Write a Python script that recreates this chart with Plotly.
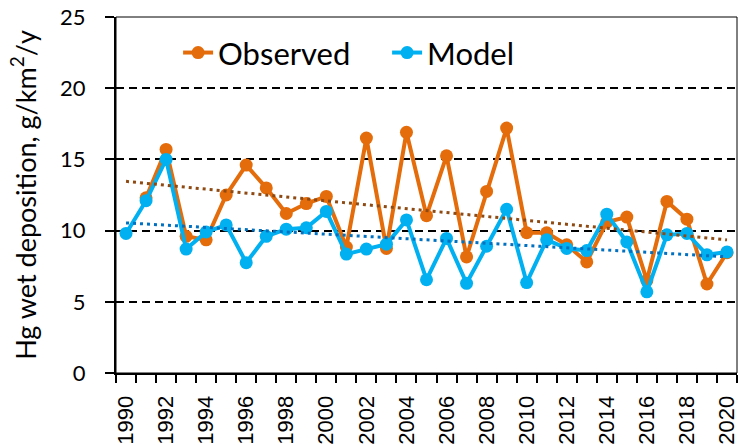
import numpy as np
import plotly.graph_objects as go

years = list(range(1990, 2021))
observed = [None, 12.3, 15.7, 9.6, 9.35, 12.5, 14.6, 13.0, 11.2, 11.9, 12.4,
            8.85, 16.5, 8.75, 16.9, 11.05, 15.25, 8.15, 12.75, 17.2, 9.85,
            9.85, 9.0, 7.8, 10.6, 10.95, 6.5, 12.05, 10.8, 6.25, 8.45]
model = [9.8, 12.1, 15.0, 8.7, 9.9, 10.4, 7.75, 9.6, 10.1, 10.2, 11.35,
         8.35, 8.7, 9.05, 10.75, 6.55, 9.45, 6.3, 8.9, 11.5, 6.35,
         9.35, 8.75, 8.6, 11.15, 9.2, 5.7, 9.7, 9.8, 8.3, 8.5]
tick_labels = [str(y) for y in range(1990, 2021, 2)]

ORANGE = "#E46C0A"
BLUE = "#00B0F0"
ORANGE_TREND = "#8E4A12"
BLUE_TREND = "#0070C0"


def trend(xs, ys):
    pts = [(x, y) for x, y in zip(xs, ys) if y is not None]
    px = np.array([p[0] for p in pts], dtype=float)
    py = np.array([p[1] for p in pts], dtype=float)
    k, b = np.polyfit(px, py, 1)
    xa = np.array(xs, dtype=float)
    return list(xa), list(k * xa + b)


fig = go.Figure()
fig.add_trace(go.Scatter(x=years, y=observed, name="Observed", mode="lines+markers",
                         line=dict(color=ORANGE, width=4),
                         marker=dict(color=ORANGE, size=13)))
fig.add_trace(go.Scatter(x=years, y=model, name="Model", mode="lines+markers",
                         line=dict(color=BLUE, width=4),
                         marker=dict(color=BLUE, size=13)))
tx, ty = trend(years, observed)
fig.add_trace(go.Scatter(x=tx, y=ty, mode="lines", showlegend=False, hoverinfo="skip",
                         line=dict(color=ORANGE_TREND, width=3, dash="3px,4px")))
tx, ty = trend(years, model)
fig.add_trace(go.Scatter(x=tx, y=ty, mode="lines", showlegend=False, hoverinfo="skip",
                         line=dict(color=BLUE_TREND, width=3, dash="3px,4px")))

fig.update_layout(
    width=741, height=445,
    margin=dict(l=116, r=4, t=17, b=72, autoexpand=False),
    paper_bgcolor="white", plot_bgcolor="white",
    font=dict(family="Lato, Calibri, sans-serif", color="black"),
    legend=dict(orientation="h", x=0.1, y=0.975, xanchor="left", yanchor="top",
                font=dict(size=31, family="Lato, sans-serif"), bgcolor="rgba(0,0,0,0)",
                entrywidth=164, entrywidthmode="pixels", tracegroupgap=0),
    showlegend=True,
    shapes=[dict(type="rect", xref="paper", yref="paper", x0=0, x1=1, y0=0, y1=1,
                 line=dict(color="black", width=1), layer="below")],
)
fig.update_xaxes(
    range=[1989.5, 2020.5], tickmode="array",
    tickvals=list(range(1990, 2021, 2)), ticktext=tick_labels,
    tickangle=-90, ticks="", ticklen=0, showgrid=False, ticklabelstandoff=12,
    tickfont=dict(family="Liberation Sans, Arial, sans-serif", size=22),
    showline=True, linecolor="black", linewidth=2, zeroline=False,
    automargin=False,
    minor=dict(tickmode="linear", tick0=1989.5, dtick=1, ticks="outside",
               ticklen=8, tickwidth=2, tickcolor="black", showgrid=False),
)
fig.update_yaxes(
    range=[0, 25], tickmode="linear", tick0=0, dtick=5,
    ticks="outside", ticklen=9, tickwidth=2, tickcolor="black",
    tickfont=dict(size=22), ticklabelstandoff=15,
    showgrid=True, gridcolor="black", gridwidth=1.5, griddash="8px,5px",
    showline=True, linecolor="black", linewidth=2, zeroline=False,
    automargin=False,
    title=dict(text="Hg wet deposition, g/km<sup>2</sup>/y", font=dict(size=27), standoff=16),
)

fig.write_html("out.html")
